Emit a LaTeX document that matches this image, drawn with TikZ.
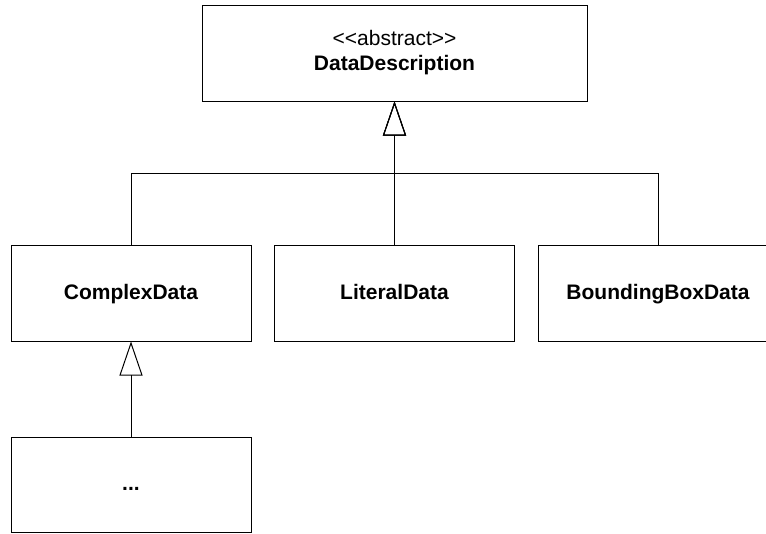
\documentclass[tikz,border=0pt]{standalone}
\usepackage{fontspec}
\setmainfont{Liberation Sans}
\usetikzlibrary{arrows.meta}
\begin{document}
\begin{tikzpicture}[x=1pt,y=-1pt,
  cls/.style={draw=black,line width=1pt,fill=white,rectangle,minimum width=240pt,minimum height=96pt,inner sep=0pt,align=center,font=\fontsize{21}{25}\selectfont\bfseries},
  single/.style={text height=15pt,text depth=3pt},
  gen/.style={line width=1pt,-{Triangle[open,length=34pt,width=23pt,line width=1pt]}}]
\useasboundingbox (0,0) rectangle (766,533);
\clip (0,0) rectangle (766,533);
\node[cls,minimum width=385pt,font=\fontsize{21}{25}\selectfont] (top) at (394.5,53) {<\kern0pt<abstract>\kern0pt>\\\textbf{DataDescription}};
\node[cls,single] (cd) at (131,293) {ComplexData};
\node[cls,single] (ld) at (394.5,293) {LiteralData};
\node[cls,single] (bb) at (658,293) {BoundingBoxData};
\node[cls,single,minimum height=95pt] (dots) at (131,484.5) {...};
\coordinate (j) at (394.5,173);
\draw[gen] (cd.north) |- (j) -- (top.south);
\draw[gen] (ld.north) -- (top.south);
\draw[gen] (bb.north) |- (j) -- (top.south);
\draw[gen] (dots.north) -- (cd.south);
\end{tikzpicture}
\end{document}
